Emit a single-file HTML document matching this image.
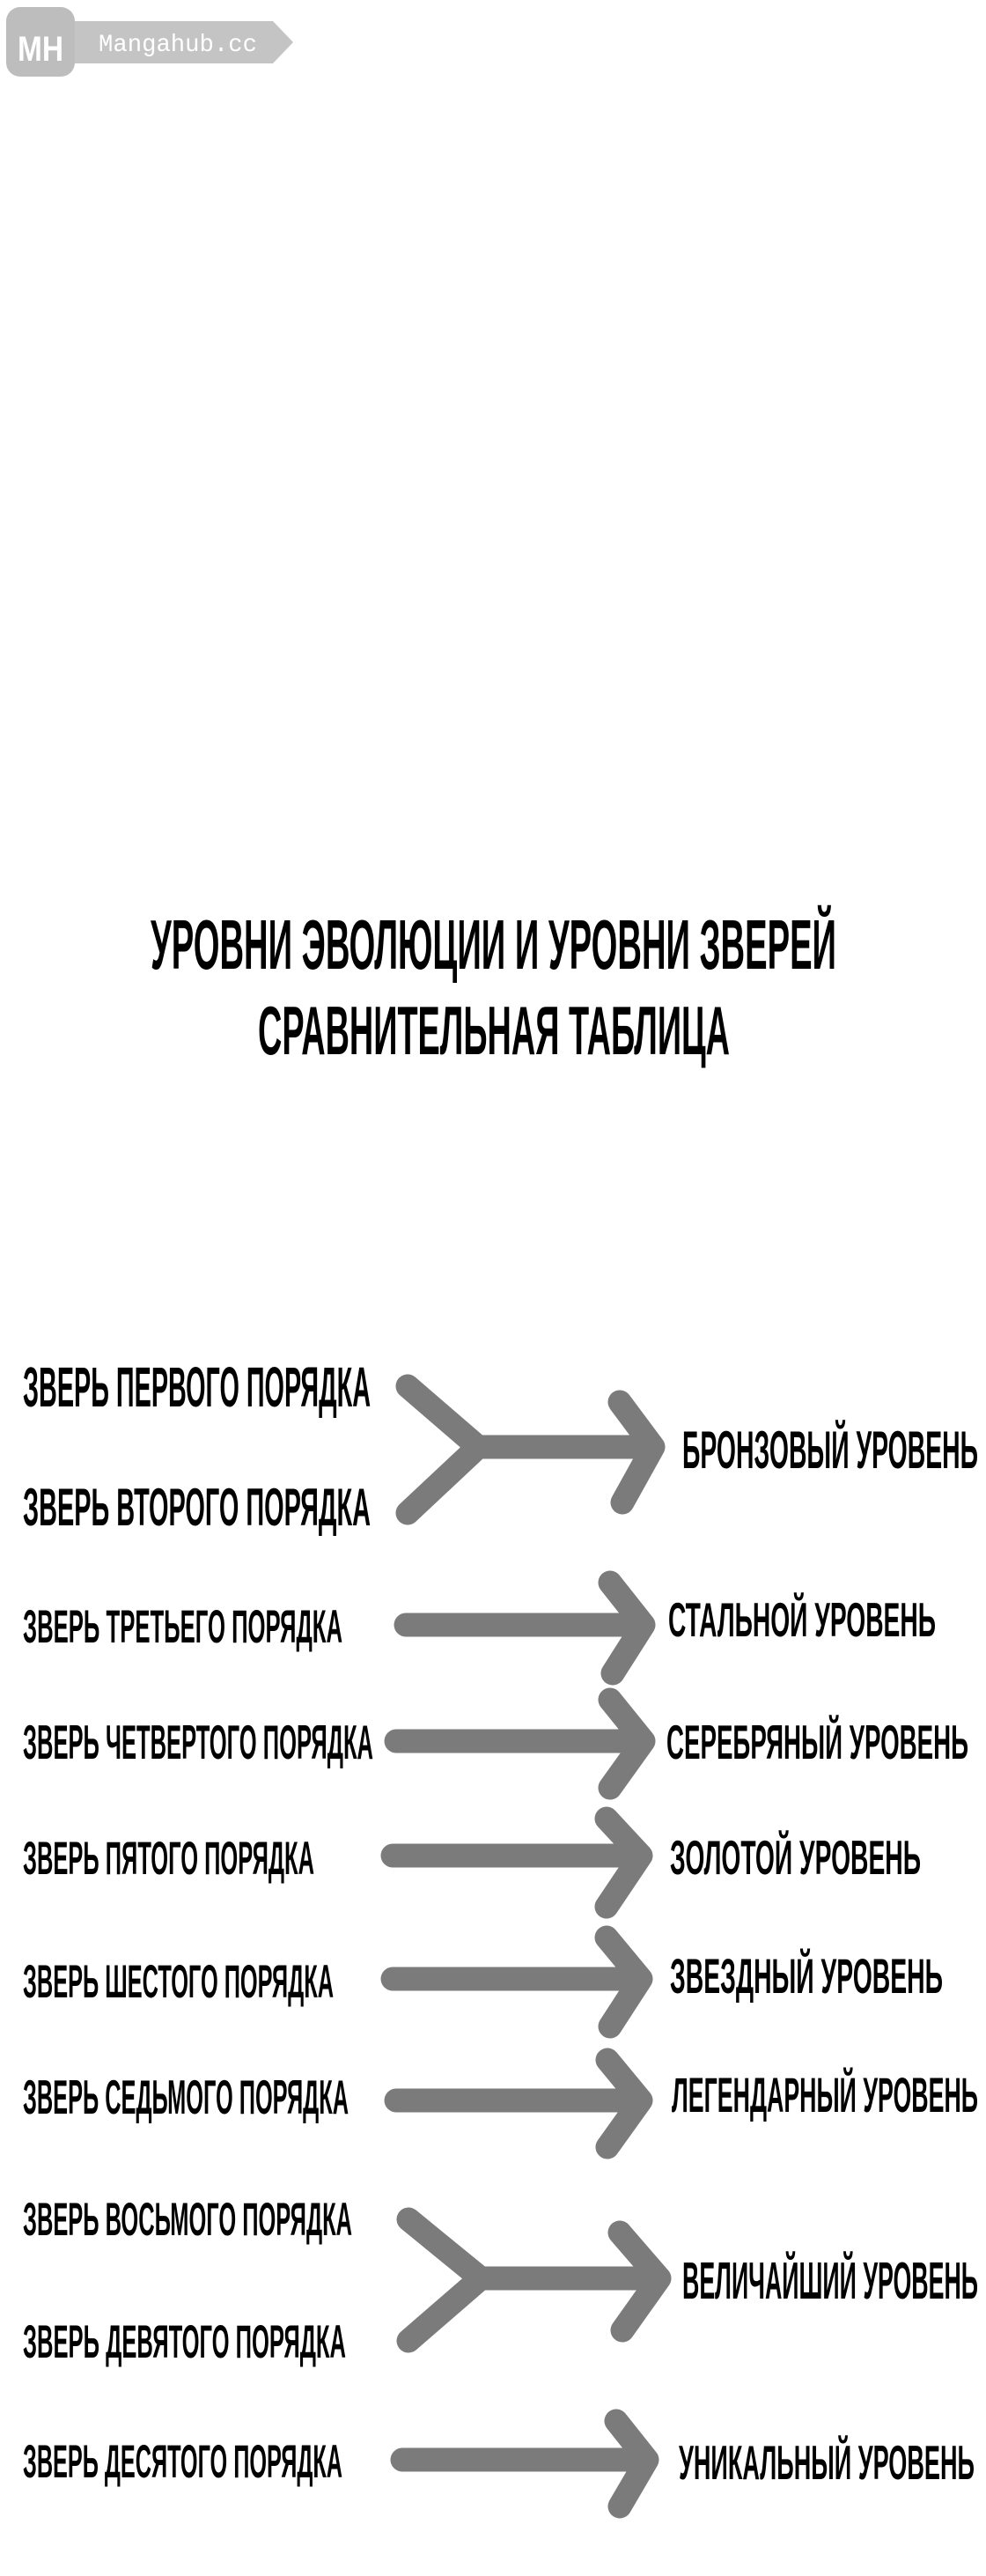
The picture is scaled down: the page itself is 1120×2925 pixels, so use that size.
<!DOCTYPE html>
<html><head><meta charset="utf-8"><style>
html,body{margin:0;padding:0;background:#fff;}
svg{display:block;}
text{font-family:"Liberation Sans",sans-serif;font-weight:bold;fill:#000;}
</style></head><body>
<svg width="1120" height="2925" viewBox="0 0 1120 2925" xmlns="http://www.w3.org/2000/svg">
<rect width="1120" height="2925" fill="#fff"/>
<!-- logo -->
<path d="M80 24 L310 24 L333 48 L310 72 L80 72 Z" fill="#c4c4c4"/>
<rect x="7" y="8" width="78" height="79" rx="16" fill="#bdbdbd"/>
<text x="20" y="69" font-size="40" style="fill:#fff" textLength="52" lengthAdjust="spacingAndGlyphs">MH</text>
<text x="112" y="58" font-size="28" style="font-family:'Liberation Mono',monospace;font-weight:normal;fill:#fff" textLength="180" lengthAdjust="spacingAndGlyphs">Mangahub.cc</text>

<!-- title -->
<text x="171" y="1100" font-size="80" textLength="779" lengthAdjust="spacingAndGlyphs">УРОВНИ ЭВОЛЮЦИИ И УРОВНИ ЗВЕРЕЙ</text>
<text x="293" y="1197" font-size="78" textLength="536" lengthAdjust="spacingAndGlyphs">СРАВНИТЕЛЬНАЯ ТАБЛИЦА</text>

<g stroke="#7b7b7b" stroke-width="27" stroke-linecap="round" stroke-linejoin="round" fill="none">
<!-- fork 1 -->
<polyline points="463,1574 543,1643 463,1718"/>
<line x1="543" y1="1643" x2="740" y2="1643"/>
<polyline points="704,1592 742,1643 707,1706"/>
<!-- row3 -->
<line x1="461" y1="1845" x2="730" y2="1845"/>
<polyline points="693,1797 731,1845 696,1900"/>
<!-- row4 -->
<line x1="450" y1="1977" x2="730" y2="1977"/>
<polyline points="693,1930 731,1977 693,2030"/>
<!-- row5 -->
<line x1="446" y1="2107" x2="727" y2="2107"/>
<polyline points="689,2065 728,2107 689,2165"/>
<!-- row6 -->
<line x1="446" y1="2247" x2="727" y2="2247"/>
<polyline points="689,2200 728,2247 693,2301"/>
<!-- row7 -->
<line x1="450" y1="2385" x2="727" y2="2385"/>
<polyline points="690,2339 728,2385 690,2438"/>
<!-- fork 2 -->
<polyline points="464,2520 546,2587 464,2658"/>
<line x1="546" y1="2587" x2="747" y2="2587"/>
<polyline points="704,2535 749,2587 707,2646"/>
<!-- row10 -->
<line x1="457" y1="2793" x2="734" y2="2793"/>
<polyline points="700,2749 735,2793 704,2846"/>
</g>

<!-- left labels -->
<text x="26" y="1597" font-size="64" textLength="395" lengthAdjust="spacingAndGlyphs">ЗВЕРЬ ПЕРВОГО ПОРЯДКА</text>
<text x="26" y="1732" font-size="60" textLength="395" lengthAdjust="spacingAndGlyphs">ЗВЕРЬ ВТОРОГО ПОРЯДКА</text>
<text x="26" y="1865" font-size="53" textLength="363" lengthAdjust="spacingAndGlyphs">ЗВЕРЬ ТРЕТЬЕГО ПОРЯДКА</text>
<text x="26" y="1997" font-size="55" textLength="398" lengthAdjust="spacingAndGlyphs">ЗВЕРЬ ЧЕТВЕРТОГО ПОРЯДКА</text>
<text x="26" y="2128" font-size="53" textLength="331" lengthAdjust="spacingAndGlyphs">ЗВЕРЬ ПЯТОГО ПОРЯДКА</text>
<text x="26" y="2268" font-size="53" textLength="353" lengthAdjust="spacingAndGlyphs">ЗВЕРЬ ШЕСТОГО ПОРЯДКА</text>
<text x="26" y="2400" font-size="55" textLength="370" lengthAdjust="spacingAndGlyphs">ЗВЕРЬ СЕДЬМОГО ПОРЯДКА</text>
<text x="26" y="2538" font-size="53" textLength="374" lengthAdjust="spacingAndGlyphs">ЗВЕРЬ ВОСЬМОГО ПОРЯДКА</text>
<text x="26" y="2677" font-size="53" textLength="367" lengthAdjust="spacingAndGlyphs">ЗВЕРЬ ДЕВЯТОГО ПОРЯДКА</text>
<text x="26" y="2813" font-size="53" textLength="363" lengthAdjust="spacingAndGlyphs">ЗВЕРЬ ДЕСЯТОГО ПОРЯДКА</text>

<!-- right labels -->
<text x="775" y="1667" font-size="60" textLength="336" lengthAdjust="spacingAndGlyphs">БРОНЗОВЫЙ УРОВЕНЬ</text>
<text x="759" y="1858" font-size="55" textLength="304" lengthAdjust="spacingAndGlyphs">СТАЛЬНОЙ УРОВЕНЬ</text>
<text x="757" y="1997" font-size="55" textLength="343" lengthAdjust="spacingAndGlyphs">СЕРЕБРЯНЫЙ УРОВЕНЬ</text>
<text x="761" y="2128" font-size="55" textLength="285" lengthAdjust="spacingAndGlyphs">ЗОЛОТОЙ УРОВЕНЬ</text>
<text x="761" y="2263" font-size="56" textLength="310" lengthAdjust="spacingAndGlyphs">ЗВЕЗДНЫЙ УРОВЕНЬ</text>
<text x="763" y="2398" font-size="56" textLength="348" lengthAdjust="spacingAndGlyphs">ЛЕГЕНДАРНЫЙ УРОВЕНЬ</text>
<text x="775" y="2610" font-size="59" textLength="336" lengthAdjust="spacingAndGlyphs">ВЕЛИЧАЙШИЙ УРОВЕНЬ</text>
<text x="771" y="2815" font-size="55" textLength="336" lengthAdjust="spacingAndGlyphs">УНИКАЛЬНЫЙ УРОВЕНЬ</text>
</svg>
</body></html>
